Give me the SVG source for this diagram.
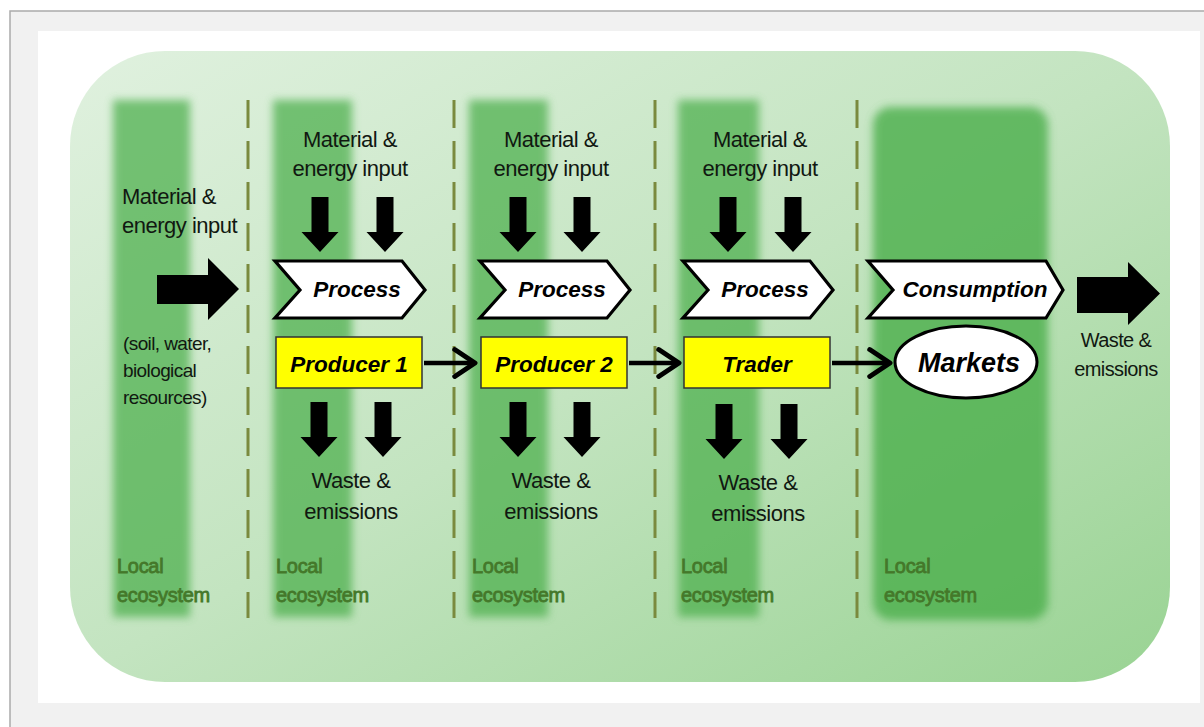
<svg xmlns="http://www.w3.org/2000/svg" width="1204" height="727" viewBox="0 0 1204 727">
<defs>
<linearGradient id="bg" x1="0" y1="0" x2="1" y2="1">
<stop offset="0" stop-color="#e0f1df"/>
<stop offset="0.5" stop-color="#c3e4c0"/>
<stop offset="1" stop-color="#99d393"/>
</linearGradient>
<filter id="blur" x="-20%" y="-5%" width="140%" height="110%"><feGaussianBlur stdDeviation="4"/></filter>
<marker id="ah" markerWidth="8" markerHeight="10" refX="5.5" refY="5" orient="auto" markerUnits="strokeWidth">
<path d="M1,2 L5.5,5 L1,8" fill="none" stroke="#000" stroke-width="1.1" stroke-linecap="round" stroke-linejoin="round"/>
</marker>
<path id="down" d="M-8.5,0 H8.5 V35 H18.5 L0,55 L-18.5,35 H-8.5 Z"/>
</defs>
<style>
.t{font-family:"Liberation Sans",Arial,sans-serif;font-size:22px;letter-spacing:-0.5px;fill:#111811}
.s{font-family:"Liberation Sans",Arial,sans-serif;font-size:19px;letter-spacing:-0.6px;fill:#111811}
.w{font-family:"Liberation Sans",Arial,sans-serif;font-size:20px;letter-spacing:-0.6px;fill:#111811}
.loc{font-family:"Liberation Sans",Arial,sans-serif;font-size:20px;letter-spacing:-0.3px;fill:#44782a;stroke:#44782a;stroke-width:0.8}
.lb{font-family:"Liberation Sans",Arial,sans-serif;font-size:22.5px;font-weight:bold;font-style:italic;fill:#000}
.chev{fill:#fff;stroke:#000;stroke-width:3.2;stroke-linejoin:miter}
.box{fill:#ffff00;stroke:#333;stroke-width:1.5}
.col{fill:#4caf4c;opacity:0.72;filter:url(#blur)}
.dash{stroke:#7a8a3e;stroke-width:3;stroke-dasharray:28 13}
.conn{stroke:#000;stroke-width:4.5;fill:none;marker-end:url(#ah)}
</style>
<rect width="1204" height="727" fill="#fff"/>
<rect x="10" y="11" width="1194" height="716" fill="#f1f1f1"/>
<path d="M10,727 V11 H1204" fill="none" stroke="#aaa" stroke-width="1.5"/>
<rect x="38" y="31" width="1162" height="672" fill="#fff"/>
<g id="background">
<rect x="70" y="51" width="1100" height="631" rx="95" ry="95" fill="url(#bg)"/>
<rect class="col" x="113" y="100" width="77" height="517"/>
<rect class="col" x="273" y="100" width="79" height="517"/>
<rect class="col" x="469" y="100" width="79" height="517"/>
<rect class="col" x="678" y="100" width="81" height="517"/>
<rect class="col" x="873" y="107" width="175" height="513" rx="18" ry="18" style="opacity:0.8"/>
<line class="dash" x1="248" y1="100" x2="248" y2="618"/>
<line class="dash" x1="454" y1="100" x2="454" y2="618"/>
<line class="dash" x1="655" y1="100" x2="655" y2="618"/>
<line class="dash" x1="857" y1="100" x2="857" y2="618"/>
</g>
<g id="local-labels">
<text class="loc" x="117" y="573">Local</text><text class="loc" x="117" y="602">ecosystem</text>
<text class="loc" x="276" y="573">Local</text><text class="loc" x="276" y="602">ecosystem</text>
<text class="loc" x="472" y="573">Local</text><text class="loc" x="472" y="602">ecosystem</text>
<text class="loc" x="681" y="573">Local</text><text class="loc" x="681" y="602">ecosystem</text>
<text class="loc" x="884" y="573">Local</text><text class="loc" x="884" y="602">ecosystem</text>
</g>
<g id="source">
<text class="t" x="122" y="204">Material &amp;</text>
<text class="t" x="122" y="233">energy input</text>
<path d="M157,275 H208 V258 L239,289 L208,320 V304 H157 Z" fill="#000"/>
<text class="s" x="123" y="350">(soil, water,</text>
<text class="s" x="123" y="377">biological</text>
<text class="s" x="123" y="404">resources)</text>
</g>
<g id="stage1">
<text class="t" x="350" y="147" text-anchor="middle">Material &amp;</text>
<text class="t" x="350" y="176" text-anchor="middle">energy input</text>
<use href="#down" x="320" y="197"/><use href="#down" x="385" y="197"/>
<polygon class="chev" points="275,261 402,261 425,290 402,318 275,318 300,290"/>
<text class="lb" x="357" y="297" text-anchor="middle">Process</text>
<rect class="box" x="276" y="337" width="146" height="51"/>
<text class="lb" x="349" y="372" text-anchor="middle">Producer 1</text>
<use href="#down" x="319" y="402"/><use href="#down" x="383" y="402"/>
<text class="t" x="351" y="488" text-anchor="middle">Waste &amp;</text>
<text class="t" x="351" y="519" text-anchor="middle">emissions</text>
</g>
<g id="stage2">
<text class="t" x="551" y="147" text-anchor="middle">Material &amp;</text>
<text class="t" x="551" y="176" text-anchor="middle">energy input</text>
<use href="#down" x="518" y="197"/><use href="#down" x="582" y="197"/>
<polygon class="chev" points="480,261 607,261 630,290 607,318 480,318 505,290"/>
<text class="lb" x="562" y="297" text-anchor="middle">Process</text>
<rect class="box" x="481" y="337" width="146" height="51"/>
<text class="lb" x="554" y="372" text-anchor="middle">Producer 2</text>
<use href="#down" x="518" y="402"/><use href="#down" x="582" y="402"/>
<text class="t" x="551" y="488" text-anchor="middle">Waste &amp;</text>
<text class="t" x="551" y="519" text-anchor="middle">emissions</text>
</g>
<g id="stage3">
<text class="t" x="760" y="147" text-anchor="middle">Material &amp;</text>
<text class="t" x="760" y="176" text-anchor="middle">energy input</text>
<use href="#down" x="728" y="197"/><use href="#down" x="793" y="197"/>
<polygon class="chev" points="683,261 810,261 833,290 810,318 683,318 708,290"/>
<text class="lb" x="765" y="297" text-anchor="middle">Process</text>
<rect class="box" x="684" y="337" width="146" height="51"/>
<text class="lb" x="757" y="372" text-anchor="middle">Trader</text>
<use href="#down" x="724" y="404"/><use href="#down" x="789" y="404"/>
<text class="t" x="758" y="490" text-anchor="middle">Waste &amp;</text>
<text class="t" x="758" y="521" text-anchor="middle">emissions</text>
</g>
<g id="stage4">
<polygon class="chev" points="868,261 1046,261 1063,290 1046,318 868,318 893,290"/>
<text class="lb" x="975" y="297" text-anchor="middle">Consumption</text>
<ellipse cx="966" cy="362" rx="71" ry="36" fill="#fff" stroke="#000" stroke-width="3"/>
<text class="lb" x="969" y="372" text-anchor="middle" style="font-size:27px">Markets</text>
</g>
<g id="sink">
<path d="M1077,277 H1128 V262 L1160,293.5 L1128,325 V313 H1077 Z" fill="#000"/>
<text class="w" x="1116" y="347" text-anchor="middle">Waste &amp;</text>
<text class="w" x="1116" y="376" text-anchor="middle">emissions</text>
</g>
<g id="connectors">
<line class="conn" x1="424" y1="363" x2="475" y2="363"/>
<line class="conn" x1="629" y1="363" x2="679" y2="363"/>
<line class="conn" x1="832" y1="363" x2="890" y2="363"/>
</g>
</svg>
